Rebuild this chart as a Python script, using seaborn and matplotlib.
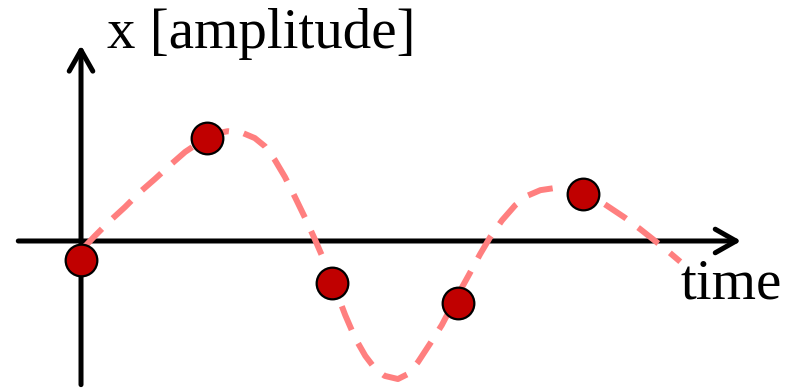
import numpy as np
import pandas as pd
import seaborn as sns
import matplotlib
matplotlib.use('Agg')
import matplotlib.pyplot as plt

sns.set_theme(style='white')
plt.rcParams['font.family'] = ['Liberation Serif', 'DejaVu Serif']

# continuous signal (dashed curve)
curve_time = [0.05, 0.22, 0.46, 0.70, 0.94, 1.18, 1.42, 1.66, 1.90, 2.14, 2.34, 2.58,
              2.77, 2.93, 3.09, 3.25, 3.41, 3.57, 3.73, 3.89, 4.05, 4.21, 4.37, 4.53,
              4.69, 4.84, 5.05, 5.21, 5.37, 5.56, 5.75, 5.96, 6.17, 6.36, 6.52, 6.71,
              6.92, 7.11, 7.32, 7.52, 7.71, 7.95, 8.19, 8.43, 8.67, 8.91, 9.15, 9.35, 9.55]
curve_amp = [-0.10, 0.08, 0.32, 0.54, 0.78, 0.99, 1.21, 1.42, 1.58, 1.71, 1.75, 1.72,
             1.64, 1.51, 1.29, 1.02, 0.70, 0.37, 0.02, -0.35, -0.76, -1.18, -1.55, -1.83,
             -2.04, -2.15, -2.20, -2.12, -1.93, -1.64, -1.34, -0.94, -0.56, -0.21, 0.06, 0.33,
             0.57, 0.72, 0.81, 0.84, 0.83, 0.78, 0.69, 0.53, 0.37, 0.19, 0.00, -0.16, -0.33]

# samples (red dots)
sample_time = [0, 2, 4, 6, 8]
sample_amp = [-0.30, 1.64, -0.67, -0.99, 0.75]

curve = pd.DataFrame({'t': curve_time, 'x': curve_amp})
samples = pd.DataFrame({'t': sample_time, 'x': sample_amp})

fig = plt.figure(figsize=(8, 3.9), dpi=100)
ax = fig.add_axes([0, 0, 1, 1])
ax.set_xlim(-1.291, 11.458)
ax.set_ylim(-2.375, 3.841)
ax.axis('off')

# axes with open arrow heads
arrow = dict(arrowstyle='->,head_length=1.5,head_width=0.85', lw=3.6, color='black',
             shrinkA=0, shrinkB=0, mutation_scale=10, capstyle='round', joinstyle='round')
ax.annotate('', xy=(10.52, 0), xytext=(-1.0, 0), arrowprops=arrow, zorder=2)
ax.annotate('', xy=(0, 3.12), xytext=(0, -2.29), arrowprops=arrow, zorder=2)

sns.lineplot(data=curve, x='t', y='x', ax=ax, color='#ff7f7f', lw=4.3,
             linestyle=(0, (4.3, 2.5)), sort=False, zorder=3)
sns.scatterplot(data=samples, x='t', y='x', ax=ax, color='#c00000', s=520,
                edgecolor='black', linewidth=1.6, zorder=4)

ax.text(0.41, 3.08, 'x [amplitude]', fontsize=41, color='black', va='baseline', ha='left')
ax.text(9.55, -0.91, 'time', fontsize=41, color='black', va='baseline', ha='left')

fig.savefig('out.png', dpi=100)
